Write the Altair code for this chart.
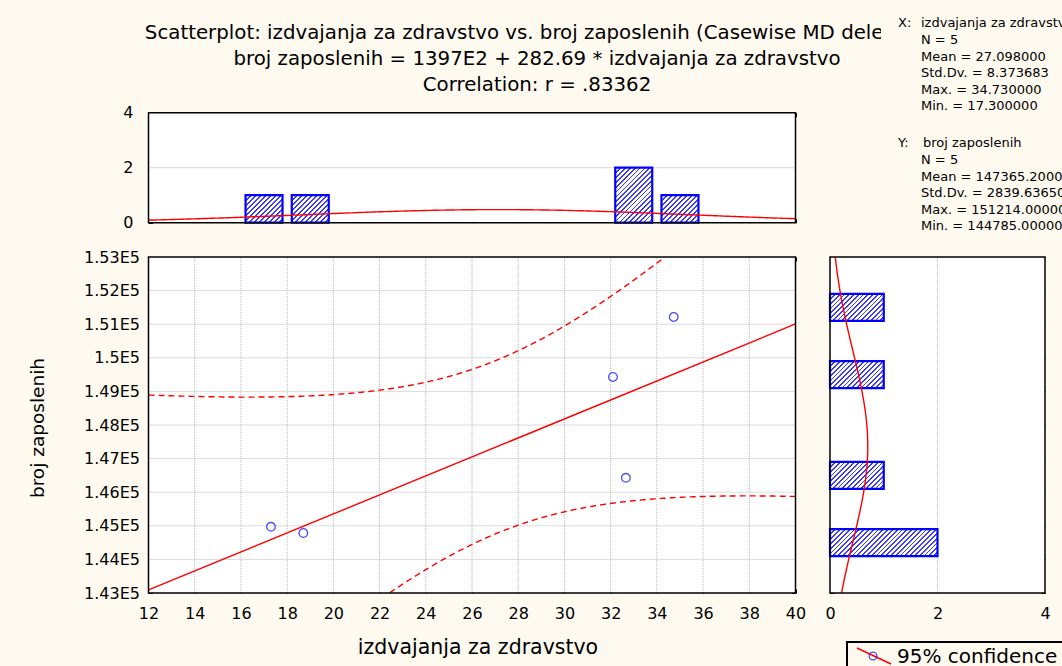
import numpy as np
import pandas as pd
import altair as alt

# ---------------------------------------------------------------- data
spending = [17.3, 18.7, 32.1, 32.66, 34.73]             # izdvajanja za zdravstvo
employees = [144970, 144785, 149430, 146427, 151214]    # broj zaposlenih

# summary statistics and fit, as printed on the chart
N = 5
X_MEAN, X_SD, X_MAX, X_MIN = 27.098, 8.373683, 34.73, 17.3
Y_MEAN, Y_SD, Y_MAX, Y_MIN = 147365.2, 2839.6365, 151214.0, 144785.0
INTERCEPT, SLOPE = 139700.0, 282.69
R = 0.83362
T_975_DF3 = 3.182446          # Student t, 95 %, 3 degrees of freedom

x_ticks = list(range(12, 41, 2))
y_ticks = list(range(143000, 153001, 1000))
count_ticks = [0, 2, 4]
x_bin_width = 2
y_bin_width = 1000

TITLE = [
    "Scatterplot: izdvajanja za zdravstvo vs. broj zaposlenih (Casewise MD deletion)",
    f"broj zaposlenih = {INTERCEPT / 100:.0f}E2 + {SLOPE} * izdvajanja za zdravstvo",
    f"Correlation: r = {R:.5f}".replace("0.", "."),
]
X_NAME = "izdvajanja za zdravstvo"
Y_NAME = "broj zaposlenih"
X_STATS = [f"N = {N}", f"Mean = {X_MEAN:.6f}", f"Std.Dv. = {X_SD:.6f}",
           f"Max. = {X_MAX:.6f}", f"Min. = {X_MIN:.6f}"]
Y_STATS = [f"N = {N}", f"Mean = {Y_MEAN:.5f}", f"Std.Dv. = {Y_SD:.5f}",
           f"Max. = {Y_MAX:.5f}", f"Min. = {Y_MIN:.5f}"]
LEGEND_LABEL = "95% confidence"

# ---------------------------------------------------------------- style / layout
FONT = "DejaVu Sans"
CREAM = "#fffaef"
BLUE = "#0000ff"
HATCH = "#3a3aff"
RED = "#ff0000"
GRID = "#b8b8b8"
W, H = 1062, 666
MX0, MX1 = 148.5, 795.5      # scatter plot, left / right
MY0, MY1 = 593.0, 257.0      # scatter plot, bottom / top
TY0, TY1 = 222.7, 112.7      # upper histogram, bottom / top
RX0, RX1 = 830.0, 1045.0     # side histogram, left / right
TICK = 4
BAR_FRAC = 0.8
STATS_SIZE = 13
TITLE_SIZE = 19.8

xs = alt.Scale(domain=[12, 40], range=[MX0, MX1], nice=False, zero=False)
ys = alt.Scale(domain=[143000, 153000], range=[MY0, MY1], nice=False, zero=False)
ts = alt.Scale(domain=[0, 4], range=[TY0, TY1], nice=False, zero=False)
rs = alt.Scale(domain=[0, 4], range=[RX0, RX1], nice=False, zero=False)


def axis(orient, offset, values, labels=False, pad=0, expr=None, tick_opacity=1):
    kw = dict(orient=orient, offset=offset, values=values, title=None, domain=False,
              grid=False, ticks=True, tickSize=TICK, tickColor="black", tickWidth=1,
              tickOpacity=tick_opacity, labels=labels, labelFont=FONT, labelFontSize=16,
              labelColor="black", labelPadding=pad, labelOverlap=False, labelFlush=False)
    if expr:
        kw["labelExpr"] = expr
    return alt.Axis(**kw)


def hatch(w, h, period=4.8, duty=0.36):
    """Diagonal hatching as a striped linear gradient for a w x h pixel box."""
    r = h / w
    gx = (1 + r) / (1 + r * r)
    n = max(1, int(round((w + h) / period)))
    stops = []
    for k in range(n):
        a, b, c = k / n, (k + duty) / n, (k + 1) / n
        stops += [{"offset": a, "color": HATCH}, {"offset": b, "color": HATCH},
                  {"offset": b, "color": "white"}, {"offset": c, "color": "white"}]
    return {"gradient": "linear", "x1": 0, "y1": 0, "x2": gx, "y2": gx * r, "stops": stops}


one = pd.DataFrame({"k": [0]})


def frame(xsc, ysc, xd, yd, x_axis_b, y_axis_l, x_axis_t, y_axis_r):
    bg = alt.Chart(one).mark_rect(fill="white", strokeOpacity=0).encode(
        x=alt.X(datum=xd[0], type="quantitative", scale=xsc, axis=x_axis_b),
        x2=alt.X2(datum=xd[1]),
        y=alt.Y(datum=yd[0], type="quantitative", scale=ysc, axis=y_axis_l),
        y2=alt.Y2(datum=yd[1]),
    )
    border = alt.Chart(one).mark_rect(fill="white", fillOpacity=0, stroke="black",
                                      strokeWidth=1.5).encode(
        x=alt.X(datum=xd[0], type="quantitative", scale=xsc, axis=x_axis_t),
        x2=alt.X2(datum=xd[1]),
        y=alt.Y(datum=yd[0], type="quantitative", scale=ysc, axis=y_axis_r),
        y2=alt.Y2(datum=yd[1]),
    )
    return bg, border


def vgrid(values, xsc, ysc, yd):
    return alt.Chart(pd.DataFrame({"g": values})).mark_rule(
        color=GRID, strokeDash=[1, 1], strokeWidth=1).encode(
        x=alt.X("g:Q", scale=xsc, axis=None),
        y=alt.Y(datum=yd[0], type="quantitative", scale=ysc, axis=None),
        y2=alt.Y2(datum=yd[1]))


def hgrid(values, xsc, ysc, xd):
    return alt.Chart(pd.DataFrame({"g": values})).mark_rule(
        color=GRID, strokeDash=[1, 1], strokeWidth=1).encode(
        y=alt.Y("g:Q", scale=ysc, axis=None),
        x=alt.X(datum=xd[0], type="quantitative", scale=xsc, axis=None),
        x2=alt.X2(datum=xd[1]))


# ---------------------------------------------------------------- scatter plot
pts = pd.DataFrame({"x": spending, "y": employees})

s_res = Y_SD * np.sqrt((1 - R ** 2) * (N - 1) / (N - 2))
sxx = (N - 1) * X_SD ** 2
xg = np.round(np.arange(12, 40.0001, 0.02), 4)
fit = INTERCEPT + SLOPE * xg
half = T_975_DF3 * s_res * np.sqrt(1 / N + (xg - X_MEAN) ** 2 / sxx)
bands = []
for name, yy in (("upper", fit + half), ("lower", fit - half)):
    m = (yy >= 143000) & (yy <= 153000)
    bands.append(pd.DataFrame({"x": xg[m], "y": yy[m], "band": name}))
band_df = pd.concat(bands)

line_df = pd.DataFrame({"x": [12, 40]})
line_df["y"] = INTERCEPT + SLOPE * line_df["x"]

m_bg, m_border = frame(
    xs, ys, (12, 40), (143000, 153000),
    axis("bottom", (MY0 - TICK) - H, x_ticks, labels=True, pad=12),
    axis("left", -(MX0 + TICK), y_ticks, labels=True, pad=9,
         expr="format(datum.value / 100000, '~g') + 'E5'"),
    axis("top", -(MY1 + TICK), x_ticks),
    axis("right", (MX1 - TICK) - W, y_ticks),
)
main = alt.layer(
    m_bg,
    vgrid(x_ticks[1:-1], xs, ys, (143000, 153000)),
    hgrid(y_ticks[1:-1], xs, ys, (12, 40)),
    alt.Chart(band_df).mark_line(color=RED, strokeDash=[6, 4], strokeWidth=1.4).encode(
        x=alt.X("x:Q", scale=xs, axis=None), y=alt.Y("y:Q", scale=ys, axis=None),
        detail="band:N"),
    alt.Chart(line_df).mark_line(color=RED, strokeWidth=1.4).encode(
        x=alt.X("x:Q", scale=xs, axis=None), y=alt.Y("y:Q", scale=ys, axis=None)),
    alt.Chart(pts).mark_point(shape="circle", size=75, filled=False, color=BLUE,
                              strokeWidth=1.3).encode(
        x=alt.X("x:Q", scale=xs, axis=None), y=alt.Y("y:Q", scale=ys, axis=None)),
    m_border,
).resolve_axis(x="independent", y="independent")

# ---------------------------------------------------------------- upper histogram
xc, xe = np.histogram(spending, bins=np.arange(12, 40.001, x_bin_width))
top_df = pd.DataFrame({"lo": xe[:-1], "count": xc})
top_df = top_df[top_df["count"] > 0]
top_df["b0"] = top_df["lo"] + (1 - BAR_FRAC) / 2 * x_bin_width
top_df["b1"] = top_df["lo"] + (1 + BAR_FRAC) / 2 * x_bin_width

top_bars = []
for c in sorted(top_df["count"].unique()):
    w_px = BAR_FRAC * x_bin_width * (MX1 - MX0) / 28
    h_px = c * (TY0 - TY1) / 4
    top_bars.append(
        alt.Chart(top_df[top_df["count"] == c]).mark_rect(
            fill=hatch(w_px, h_px), stroke=BLUE, strokeWidth=2.2).encode(
            x=alt.X("b0:Q", scale=xs, axis=None), x2="b1:Q",
            y=alt.Y("count:Q", scale=ts, axis=None),
            y2=alt.Y2(datum=0)))

xn = np.linspace(12, 40, 281)
top_curve = pd.DataFrame({
    "x": xn,
    "f": N * x_bin_width * np.exp(-0.5 * ((xn - X_MEAN) / X_SD) ** 2) / (X_SD * np.sqrt(2 * np.pi)),
})

t_bg, t_border = frame(
    xs, ts, (12, 40), (0, 4),
    axis("bottom", (TY0 - TICK) - H, x_ticks),
    axis("left", -(MX0 + TICK), count_ticks, labels=True, pad=15.5),
    axis("top", -(TY1 + TICK), x_ticks),
    axis("right", (MX1 - TICK) - W, [2]),
)
top = alt.layer(
    t_bg,
    hgrid([2], xs, ts, (12, 40)),
    *top_bars,
    alt.Chart(top_curve).mark_line(color=RED, strokeWidth=1.4).encode(
        x=alt.X("x:Q", scale=xs, axis=None), y=alt.Y("f:Q", scale=ts, axis=None)),
    t_border,
).resolve_axis(x="independent", y="independent")

# ---------------------------------------------------------------- side histogram
yc, ye = np.histogram(employees, bins=np.arange(143000, 153001, y_bin_width))
side_df = pd.DataFrame({"lo": ye[:-1], "count": yc})
side_df = side_df[side_df["count"] > 0]
side_df["b0"] = side_df["lo"] + (1 - BAR_FRAC) / 2 * y_bin_width
side_df["b1"] = side_df["lo"] + (1 + BAR_FRAC) / 2 * y_bin_width

side_bars = []
for c in sorted(side_df["count"].unique()):
    w_px = c * (RX1 - RX0) / 4
    h_px = BAR_FRAC * y_bin_width * (MY0 - MY1) / 10000
    side_bars.append(
        alt.Chart(side_df[side_df["count"] == c]).mark_rect(
            fill=hatch(w_px, h_px), stroke=BLUE, strokeWidth=2.2).encode(
            y=alt.Y("b0:Q", scale=ys, axis=None), y2="b1:Q",
            x=alt.X("count:Q", scale=rs, axis=None),
            x2=alt.X2(datum=0)))

yn = np.linspace(143000, 153000, 401)
side_curve = pd.DataFrame({
    "y": yn,
    "f": N * y_bin_width * np.exp(-0.5 * ((yn - Y_MEAN) / Y_SD) ** 2) / (Y_SD * np.sqrt(2 * np.pi)),
})

r_bg, r_border = frame(
    rs, ys, (0, 4), (143000, 153000),
    axis("bottom", (MY0 - TICK) - H, count_ticks, labels=True, pad=12, tick_opacity=0),
    axis("left", -(RX0 + TICK), y_ticks),
    axis("top", -(MY1 + TICK), [2], tick_opacity=0),
    axis("right", (RX1 - TICK) - W, y_ticks),
)
side = alt.layer(
    r_bg,
    vgrid([2], rs, ys, (143000, 153000)),
    *side_bars,
    alt.Chart(side_curve).mark_line(color=RED, strokeWidth=1.4).encode(
        x=alt.X("f:Q", scale=rs, axis=None), y=alt.Y("y:Q", scale=ys, axis=None),
        order="y:Q"),
    r_border,
).resolve_axis(x="independent", y="independent")


# ---------------------------------------------------------------- text
def label(text, x, y, size, align="center", angle=0):
    return alt.Chart(pd.DataFrame({"t": [text]})).mark_text(
        font=FONT, fontSize=size, color="black", align=align, baseline="middle",
        angle=angle).encode(text="t:N", x=alt.value(x), y=alt.value(y))


title_marks = [label(t, 537, y, TITLE_SIZE) for t, y in zip(TITLE, (33, 59, 85))]

stats_panel = alt.Chart(one).mark_rect(fill=CREAM).encode(
    x=alt.value(881), x2=alt.value(W), y=alt.value(9), y2=alt.value(245))

STEP = 16.6
stats_marks = [label("X:", 898, 23.3, STATS_SIZE, "left"),
               label(X_NAME, 921, 23.3, STATS_SIZE, "left")]
stats_marks += [label(s, 921, 23.3 + STEP * (i + 1), STATS_SIZE, "left")
                for i, s in enumerate(X_STATS)]
stats_marks += [label("Y:", 898, 143.3, STATS_SIZE, "left"),
                label(Y_NAME, 923, 143.3, STATS_SIZE, "left")]
stats_marks += [label(s, 921, 143.3 + STEP * (i + 1), STATS_SIZE, "left")
                for i, s in enumerate(Y_STATS)]

axis_titles = [
    label(X_NAME, 478, 648, 20.5),
    label(Y_NAME, 38, 428, 18.5, angle=270),
]

legend = [
    alt.Chart(one).mark_rect(fill=CREAM, stroke="black", strokeWidth=2).encode(
        x=alt.value(847), x2=alt.value(W + 20), y=alt.value(642), y2=alt.value(H + 20)),
    alt.Chart(one).mark_rule(color=RED, strokeWidth=1.4).encode(
        x=alt.value(857), x2=alt.value(891), y=alt.value(648), y2=alt.value(664)),
    alt.Chart(one).mark_point(shape="circle", size=60, filled=False, color=BLUE,
                              strokeWidth=1.3).encode(x=alt.value(873), y=alt.value(656)),
    label(LEGEND_LABEL, 897, 657, 20, "left"),
]

chart = alt.layer(
    *title_marks, stats_panel, *stats_marks,
    top, main, side,
    *axis_titles, *legend,
).resolve_scale(x="independent", y="independent").properties(
    width=W, height=H, padding=0,
    autosize=alt.AutoSizeParams(type="none"),
    background=CREAM,
).configure_view(stroke=None)

chart.save("out.html", embed_options={"renderer": "svg", "actions": False})
